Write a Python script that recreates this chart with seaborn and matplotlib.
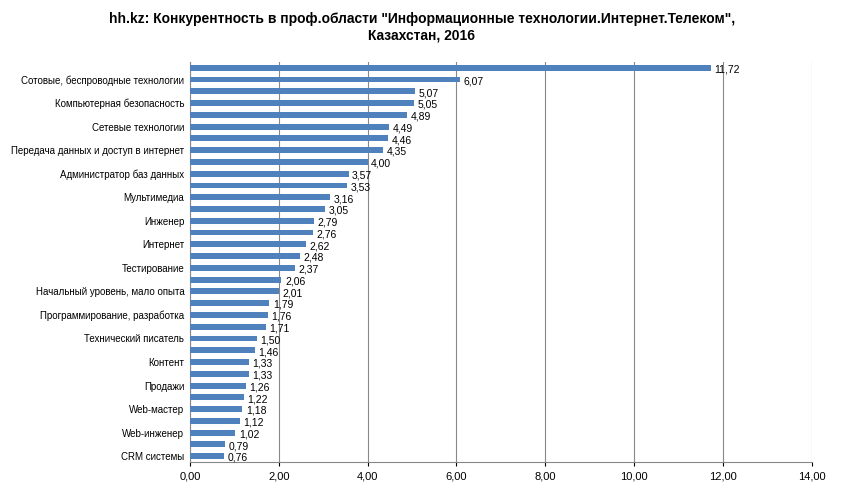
import matplotlib
matplotlib.use("Agg")
import matplotlib.pyplot as plt
import seaborn as sns
import pandas as pd

plt.rcParams["font.family"] = "Liberation Sans"

values = [11.72, 6.07, 5.07, 5.05, 4.89, 4.49, 4.46, 4.35, 4.00, 3.57, 3.53, 3.16,
          3.05, 2.79, 2.76, 2.62, 2.48, 2.37, 2.06, 2.01, 1.79, 1.76, 1.71, 1.50,
          1.46, 1.33, 1.33, 1.26, 1.22, 1.18, 1.12, 1.02, 0.79, 0.76]
shown_labels = ["Сотовые, беспроводные технологии", "Компьютерная безопасность",
                "Сетевые технологии", "Передача данных и доступ в интернет",
                "Администратор баз данных", "Мультимедиа", "Инженер", "Интернет",
                "Тестирование", "Начальный уровень, мало опыта",
                "Программирование, разработка", "Технический писатель", "Контент",
                "Продажи", "Web-мастер", "Web-инженер", "CRM системы"]
x_ticks = [0, 2, 4, 6, 8, 10, 12, 14]

df = pd.DataFrame({"pos": range(len(values)), "value": values})

fig, ax = plt.subplots(figsize=(8.44, 4.99), dpi=100)
fig.subplots_adjust(left=0.225, right=0.962, top=0.876, bottom=0.074)
sns.barplot(data=df, x="value", y="pos", orient="h", color="#4F81BD",
            saturation=1, width=0.5, ax=ax, zorder=3)

ax.set_yticks(range(1, len(values), 2))
ax.set_yticklabels(shown_labels, fontsize=7)
ax.set_xlim(0, 14)
ax.set_xticks(x_ticks)
ax.set_xticklabels([f"{t:.2f}".replace(".", ",") for t in x_ticks], fontsize=8)
ax.set_xlabel("")
ax.set_ylabel("")
ax.grid(axis="x", color="#888888", linewidth=0.8, zorder=0)
ax.tick_params(axis="y", length=0, pad=4)
ax.tick_params(axis="x", length=3)
for s in ["top", "right"]:
    ax.spines[s].set_visible(False)
ax.spines["left"].set_color("#888888")
ax.spines["bottom"].set_color("#888888")

for i, v in enumerate(values):
    ax.text(v + 0.08, i + 0.15, f"{v:.2f}".replace(".", ","), va="center",
            ha="left", fontsize=7.5)

fig.suptitle('hh.kz: Конкурентность в проф.области "Информационные технологии.Интернет.Телеком",\nКазахстан, 2016',
             fontsize=10, fontweight="bold", y=0.975)
fig.savefig("out.png", dpi=100)
